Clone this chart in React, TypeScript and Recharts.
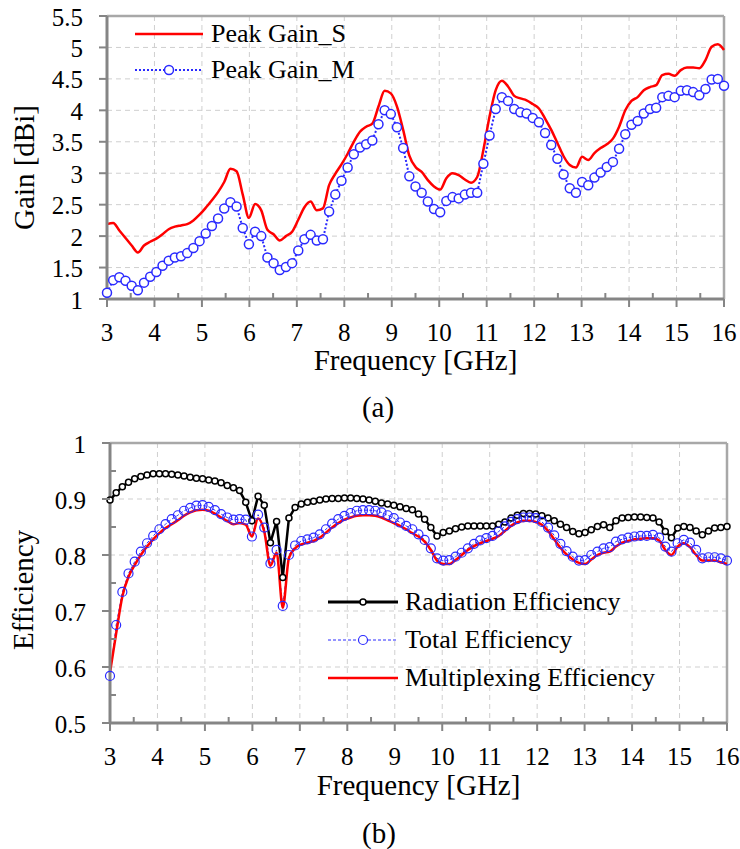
import { CartesianGrid, Legend, Line, LineChart, ReferenceLine, XAxis, YAxis } from 'recharts';

const FREQ = [
  3.0, 3.13, 3.26, 3.39, 3.52, 3.65, 3.78, 3.91, 4.04, 4.17,
  4.3, 4.43, 4.56, 4.69, 4.82, 4.95, 5.08, 5.21, 5.34, 5.47,
  5.6, 5.73, 5.86, 5.99, 6.12, 6.25, 6.38, 6.51, 6.64, 6.77,
  6.9, 7.03, 7.16, 7.29, 7.42, 7.55, 7.68, 7.81, 7.94, 8.07,
  8.2, 8.33, 8.46, 8.59, 8.72, 8.85, 8.98, 9.11, 9.24, 9.37,
  9.5, 9.63, 9.76, 9.89, 10.02, 10.15, 10.28, 10.41, 10.54, 10.67,
  10.8, 10.93, 11.06, 11.19, 11.32, 11.45, 11.58, 11.71, 11.84, 11.97,
  12.1, 12.23, 12.36, 12.49, 12.62, 12.75, 12.88, 13.01, 13.14, 13.27,
  13.4, 13.53, 13.66, 13.79, 13.92, 14.05, 14.18, 14.31, 14.44, 14.57,
  14.7, 14.83, 14.96, 15.09, 15.22, 15.35, 15.48, 15.61, 15.74, 15.87,
  16.0,
];

const GAIN_S = [
  2.19, 2.21, 2.09, 1.97, 1.85, 1.74, 1.85, 1.91, 1.96, 2.03,
  2.11, 2.15, 2.17, 2.19, 2.25, 2.34, 2.45, 2.57, 2.7, 2.86,
  3.07, 3.03, 2.66, 2.29, 2.51, 2.41, 2.1, 2.03, 1.93, 2.0,
  2.07, 2.26, 2.46, 2.55, 2.41, 2.44, 2.81, 2.99, 3.14, 3.31,
  3.5, 3.66, 3.74, 3.79, 4.06, 4.31, 4.27, 4.06, 3.69, 3.28,
  3.1, 3.02, 2.89, 2.79, 2.74, 2.92, 3.0, 2.97, 2.9, 2.85,
  2.94, 3.37, 3.9, 4.32, 4.47, 4.38, 4.23, 4.19, 4.16, 4.1,
  4.03, 3.87, 3.69, 3.48, 3.27, 3.13, 3.09, 3.26, 3.21, 3.32,
  3.4, 3.46, 3.55, 3.74, 4.0, 4.15, 4.21, 4.32, 4.37, 4.4,
  4.56, 4.58, 4.55, 4.64, 4.68, 4.68, 4.67, 4.8, 5.01, 5.05,
  4.96,
];

const GAIN_M = [
  1.1, 1.3, 1.345, 1.29, 1.21, 1.14, 1.26, 1.355, 1.43, 1.53,
  1.61, 1.66, 1.68, 1.73, 1.81, 1.92, 2.04, 2.16, 2.28, 2.44,
  2.54, 2.47, 2.13, 1.87, 2.07, 2.0, 1.66, 1.57, 1.46, 1.51,
  1.57, 1.77, 1.95, 2.02, 1.93, 1.95, 2.39, 2.66, 2.88, 3.09,
  3.3, 3.41, 3.46, 3.52, 3.78, 4.0, 3.94, 3.73, 3.4, 2.95,
  2.79, 2.69, 2.55, 2.43, 2.38, 2.56, 2.62, 2.6, 2.66, 2.69,
  2.69, 3.15, 3.6, 4.02, 4.21, 4.15, 4.02, 3.97, 3.95, 3.88,
  3.81, 3.64, 3.45, 3.23, 2.98, 2.76, 2.69, 2.86, 2.81, 2.93,
  3.01, 3.1, 3.18, 3.39, 3.62, 3.77, 3.83, 3.95, 4.02, 4.04,
  4.21, 4.23, 4.21, 4.31, 4.32, 4.29, 4.24, 4.34, 4.49, 4.5,
  4.39,
];

const RAD_EFF = [
  0.898, 0.911, 0.922, 0.93, 0.936, 0.94, 0.943, 0.945, 0.945, 0.945,
  0.944, 0.943, 0.941, 0.939, 0.937, 0.936, 0.934, 0.932, 0.929, 0.924,
  0.92, 0.915, 0.894, 0.861, 0.905, 0.889, 0.822, 0.86, 0.76, 0.866,
  0.885, 0.891, 0.894, 0.896, 0.898, 0.9, 0.901, 0.901, 0.902, 0.902,
  0.901, 0.9, 0.898, 0.896, 0.893, 0.891, 0.889, 0.886, 0.883, 0.881,
  0.873, 0.864, 0.849, 0.834, 0.84, 0.843, 0.847, 0.85, 0.852, 0.852,
  0.852, 0.852, 0.852, 0.855, 0.859, 0.866, 0.871, 0.874, 0.874, 0.873,
  0.87, 0.866, 0.861, 0.855, 0.849, 0.842, 0.838, 0.84, 0.845, 0.851,
  0.854, 0.849, 0.861, 0.866, 0.867, 0.868, 0.868, 0.867, 0.866, 0.859,
  0.842, 0.831, 0.848, 0.851, 0.849, 0.843, 0.836, 0.843, 0.848, 0.849,
  0.851,
];

const TOT_EFF = [
  0.584, 0.675, 0.734, 0.767, 0.788, 0.806, 0.821, 0.834, 0.846, 0.855,
  0.864, 0.871, 0.879, 0.884, 0.888, 0.889, 0.886, 0.88, 0.873, 0.867,
  0.863, 0.864, 0.863, 0.833, 0.872, 0.849, 0.785, 0.809, 0.709, 0.8,
  0.817, 0.825, 0.828, 0.831, 0.837, 0.846, 0.856, 0.864, 0.87, 0.875,
  0.879, 0.88, 0.88, 0.879, 0.876, 0.871, 0.866, 0.858, 0.852, 0.846,
  0.837, 0.827, 0.812, 0.794, 0.79, 0.791, 0.797, 0.804, 0.812, 0.82,
  0.826, 0.83, 0.834, 0.842, 0.851, 0.859, 0.864, 0.867, 0.867, 0.866,
  0.859, 0.849, 0.835, 0.82, 0.807, 0.797, 0.79, 0.791, 0.8, 0.806,
  0.812, 0.814, 0.824, 0.828, 0.831, 0.833, 0.834, 0.834, 0.836, 0.831,
  0.815, 0.806, 0.821, 0.827, 0.822, 0.809, 0.794, 0.796, 0.796, 0.794,
  0.79,
];

const MUX_EFF = [
  0.59, 0.66, 0.726, 0.761, 0.782, 0.8, 0.815, 0.828, 0.839, 0.848,
  0.855, 0.862, 0.87, 0.876, 0.88, 0.881, 0.879, 0.874, 0.867, 0.861,
  0.855, 0.857, 0.854, 0.833, 0.865, 0.842, 0.781, 0.804, 0.706, 0.795,
  0.812, 0.819, 0.822, 0.825, 0.831, 0.84, 0.849, 0.857, 0.863, 0.867,
  0.87, 0.871, 0.871, 0.87, 0.867, 0.862, 0.857, 0.852, 0.846, 0.839,
  0.833, 0.824, 0.809, 0.79, 0.784, 0.784, 0.791, 0.8, 0.809, 0.816,
  0.821, 0.825, 0.829, 0.834, 0.843, 0.852, 0.858, 0.861, 0.861, 0.859,
  0.854, 0.843, 0.828, 0.813, 0.801, 0.792, 0.786, 0.784, 0.792, 0.8,
  0.804, 0.806, 0.815, 0.822, 0.825, 0.828, 0.829, 0.83, 0.83, 0.826,
  0.809, 0.8, 0.815, 0.821, 0.814, 0.8, 0.79, 0.79, 0.79, 0.787,
  0.784,
];

const X_TICKS = [3, 3.5, 4, 4.5, 5, 5.5, 6, 6.5, 7, 7.5, 8, 8.5, 9, 9.5, 10, 10.5, 11, 11.5, 12, 12.5, 13, 13.5, 14, 14.5, 15, 15.5, 16];
const X_GRID = [3, 4, 5, 6, 7, 8, 9, 10, 11, 12, 13, 14, 15, 16];
const GAIN_TICKS = [1, 1.5, 2, 2.5, 3, 3.5, 4, 4.5, 5, 5.5];
const EFF_TICKS = [0.5, 0.55, 0.6, 0.65, 0.7, 0.75, 0.8, 0.85, 0.9, 0.95, 1];
const EFF_GRID = [0.5, 0.6, 0.7, 0.8, 0.9, 1];

const FONT = "'Liberation Serif', 'Times New Roman', Tinos, 'DejaVu Serif', serif";
const AXIS = '#858585';
const FRAME = '#a8a8a8';
const GRID = '#cfcfcf';
const RED = '#ff0000';
const BLUE = '#2a2aff';

const gainRows = FREQ.map((f, i) => ({ f, s: GAIN_S[i], m: GAIN_M[i] }));
const effRows = FREQ.map((f, i) => ({ f, rad: RAD_EFF[i], tot: TOT_EFF[i], mux: MUX_EFF[i] }));

const isMajorX = (v: number) => Number.isInteger(v);
const isMajorEff = (v: number) => Math.round(v * 100) % 10 === 0;

function XTick(props: any) {
  const { x, y, payload } = props;
  const v = payload.value;
  const ay = y - 24;
  const major = isMajorX(v);
  return (
    <g>
      <line x1={x} x2={x} y1={ay} y2={major ? ay + 8 : ay - 6} stroke={AXIS} strokeWidth={2} />
      {major && (
        <text x={x} y={y} dy="0.7em" textAnchor="middle" style={{ fontFamily: FONT }} fontSize={25} fill="#000">
          {v}
        </text>
      )}
    </g>
  );
}

function makeYTick(isMajor: (v: number) => boolean) {
  return (props: any) => {
    const { x, y, payload } = props;
    const v = payload.value;
    const ax = x + 24;
    const major = isMajor(v);
    return (
      <g>
        <line x1={ax} x2={major ? ax - 8 : ax + 6} y1={y} y2={y} stroke={AXIS} strokeWidth={2} />
        {major && (
          <text x={x} y={y} dy="0.38em" textAnchor="end" style={{ fontFamily: FONT }} fontSize={25} fill="#000">
            {v}
          </text>
        )}
      </g>
    );
  };
}

function yTitle(text: string, cx: number, shift: number) {
  return (props: any) => {
    const vb = props.viewBox;
    const cy = vb.y + vb.height / 2 + shift;
    return (
      <text x={cx} y={cy} transform={`rotate(-90 ${cx} ${cy})`} textAnchor="middle" dominantBaseline="central"
        style={{ fontFamily: FONT }} fontSize={29} fill="#000">
        {text}
      </text>
    );
  };
}

const labelStyle = { fontFamily: FONT, fontSize: 29, fill: '#000' };

function Row({ h, w, children, text }: { h: number; w: number; children: any; text: string }) {
  return (
    <div style={{ display: 'flex', alignItems: 'center', height: h }}>
      <svg width={w} height={h} style={{ display: 'block' }}>{children}</svg>
      <span style={{ fontFamily: FONT, fontSize: 26, color: '#000', whiteSpace: 'nowrap' }}>{text}</span>
    </div>
  );
}

const gainLegend = () => (
  <div>
    <Row h={36} w={76} text="Peak Gain_S">
      <line x1={0} x2={68} y1={18} y2={18} stroke={RED} strokeWidth={2.5} />
    </Row>
    <Row h={36} w={76} text="Peak Gain_M">
      <line x1={0} x2={68} y1={18} y2={18} stroke={BLUE} strokeWidth={2} strokeDasharray="2 2" />
      <circle cx={34} cy={18} r={4.5} fill="#fff" stroke={BLUE} strokeWidth={1.5} />
    </Row>
  </div>
);

const effLegend = () => (
  <div>
    <Row h={38} w={77} text="Radiation Efficiency">
      <line x1={0} x2={70} y1={19} y2={19} stroke="#000" strokeWidth={3} />
      <circle cx={35} cy={19} r={3} fill="#fff" stroke="#000" strokeWidth={1.5} />
    </Row>
    <Row h={38} w={77} text="Total Efficiency">
      <line x1={0} x2={68} y1={19} y2={19} stroke={BLUE} strokeWidth={1} strokeDasharray="3 2" />
      <circle cx={35} cy={19} r={4.5} fill="#fff" stroke={BLUE} strokeWidth={1.2} />
    </Row>
    <Row h={38} w={77} text="Multiplexing Efficiency">
      <line x1={0} x2={70} y1={19} y2={19} stroke={RED} strokeWidth={2.5} />
    </Row>
  </div>
);

function GainChart() {
  return (
    <LineChart width={740} height={380} data={gainRows} margin={{ top: 16, right: 16, left: 0, bottom: 0 }}>
      <CartesianGrid stroke={GRID} strokeDasharray="5 4" verticalValues={X_GRID} horizontalValues={GAIN_TICKS} />
      <XAxis type="number" dataKey="f" domain={[3, 16]} ticks={X_TICKS} interval={0} height={81}
        tickSize={8} tickMargin={16} tickLine={false} axisLine={{ stroke: AXIS, strokeWidth: 3 }} tick={XTick}
        label={{ value: 'Frequency [GHz]', position: 'insideBottom', offset: 10, style: labelStyle }} />
      <YAxis type="number" domain={[1, 5.5]} ticks={GAIN_TICKS} interval={0} width={107}
        tickSize={8} tickMargin={16} tickLine={false} axisLine={{ stroke: AXIS, strokeWidth: 3 }}
        tick={makeYTick(() => true)} label={{ content: yTitle('Gain [dBi]', 24, 10) }} />
      <ReferenceLine y={5.5} stroke={FRAME} strokeWidth={2.5} />
      <ReferenceLine x={16} stroke={FRAME} strokeWidth={2.5} />
      <Line dataKey="s" type="monotone" stroke={RED} strokeWidth={2.5} dot={false} isAnimationActive={false} />
      <Line dataKey="m" type="linear" stroke={BLUE} strokeWidth={2} strokeDasharray="2 2"
        dot={{ r: 4.5, fill: '#fff', stroke: BLUE, strokeWidth: 1.5, strokeDasharray: 'none' }} isAnimationActive={false} />
      <Legend layout="vertical" align="center" verticalAlign="middle" content={gainLegend}
        wrapperStyle={{ left: 135, top: 16, width: 'auto', height: 'auto' }} />
    </LineChart>
  );
}

function EffChart() {
  return (
    <LineChart width={740} height={410} data={effRows} margin={{ top: 43, right: 13, left: 0, bottom: 0 }}>
      <CartesianGrid stroke={GRID} strokeDasharray="5 4" verticalValues={X_GRID} horizontalValues={EFF_GRID} />
      <XAxis type="number" dataKey="f" domain={[3, 16]} ticks={X_TICKS} interval={0} height={87}
        tickSize={8} tickMargin={16} tickLine={false} axisLine={{ stroke: AXIS, strokeWidth: 3 }} tick={XTick}
        label={{ value: 'Frequency [GHz]', position: 'insideBottom', offset: 15, style: labelStyle }} />
      <YAxis type="number" domain={[0.5, 1]} ticks={EFF_TICKS} interval={0} width={110}
        tickSize={8} tickMargin={16} tickLine={false} axisLine={{ stroke: AXIS, strokeWidth: 3 }}
        tick={makeYTick(isMajorEff)} label={{ content: yTitle('Efficiency', 23, 7) }} />
      <ReferenceLine y={1} stroke={FRAME} strokeWidth={2.5} />
      <ReferenceLine x={16} stroke={FRAME} strokeWidth={2.5} />
      <Line dataKey="rad" type="linear" stroke="#000" strokeWidth={2.5}
        dot={{ r: 3, fill: '#fff', stroke: '#000', strokeWidth: 1.5 }} isAnimationActive={false} />
      <Line dataKey="tot" type="linear" stroke={BLUE} strokeWidth={1} strokeDasharray="3 2"
        dot={{ r: 4.5, fill: 'none', stroke: BLUE, strokeWidth: 1.2, strokeDasharray: 'none' }} isAnimationActive={false} />
      <Line dataKey="mux" type="monotone" stroke={RED} strokeWidth={2.5} dot={false} isAnimationActive={false} />
      <Legend layout="vertical" align="center" verticalAlign="middle" content={effLegend}
        wrapperStyle={{ left: 328, top: 183, width: 'auto', height: 'auto' }} />
    </LineChart>
  );
}

export default function App() {
  return (
    <div style={{ position: 'absolute', left: 0, top: 0, width: 740, height: 849, background: '#fff', overflow: 'hidden' }}>
      <div style={{ position: 'absolute', left: 0, top: 0 }}>
        <GainChart />
      </div>
      <div style={{ position: 'absolute', left: 0, top: 400 }}>
        <EffChart />
      </div>
      <svg width={740} height={849} style={{ position: 'absolute', left: 0, top: 0, pointerEvents: 'none' }}>
        <text x={378} y={417} textAnchor="middle" style={{ fontFamily: FONT }} fontSize={29} fill="#000">(a)</text>
        <text x={379} y={843} textAnchor="middle" style={{ fontFamily: FONT }} fontSize={29} fill="#000">(b)</text>
      </svg>
    </div>
  );
}
